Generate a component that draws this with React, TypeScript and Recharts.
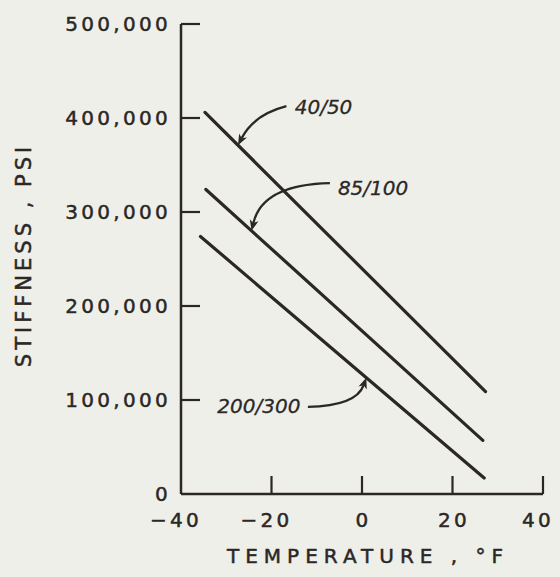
import { Label, Line, LineChart, ReferenceDot, XAxis, YAxis } from "recharts";

// axis ticks
const tempTicks = [-40, -20, 0, 20, 40];
const stiffTicks = [0, 100000, 200000, 300000, 400000, 500000];

// penetration grades and their stiffness lines (°F, psi)
const grades = ["40/50", "85/100", "200/300"];
const temp4050 = [-34.7, 27.3];
const stiff4050 = [406000, 109000];
const temp85100 = [-34.5, 26.7];
const stiff85100 = [324000, 57000];
const temp200300 = [-35.7, 27.0];
const stiff200300 = [274000, 17000];

// temperature at which each callout arrow touches its line
const calloutTemps = [-27.4, -24.4, 0.95];

const ink = "#2b2727";
const paper = "#efefe9";
const font = "DejaVu Sans, sans-serif";
const tickFont = {
  fontFamily: font,
  fontSize: 20,
  letterSpacing: 3.3,
  fill: ink,
  stroke: ink,
  strokeWidth: 0.5,
};

const toRows = (t: number[], s: number[]) => t.map((temp, i) => ({ temp, stiff: s[i] }));

const series = [
  { name: grades[0], rows: toRows(temp4050, stiff4050) },
  { name: grades[1], rows: toRows(temp85100, stiff85100) },
  { name: grades[2], rows: toRows(temp200300, stiff200300) },
];

function stiffAt(rows: { temp: number; stiff: number }[], temp: number) {
  const [a, b] = rows;
  return a.stiff + ((temp - a.temp) / (b.temp - a.temp)) * (b.stiff - a.stiff);
}

// pixel offsets of label / leader start / bend, relative to the arrow tip
const calloutLayout = [
  { text: [56.7, -31.7], start: [48.4, -39], ctrl: [15.8, -30.5] },
  { text: [86.3, -35.5], start: [78.3, -47.7], ctrl: [10.8, -46.2] },
  { text: [-149, 35], start: [-58.4, 29.3], ctrl: [-10, 28.3] },
];

function Callout(props: any, label: string, idx: number) {
  const { cx, cy } = props;
  const lay = calloutLayout[idx];
  const sx = cx + lay.start[0];
  const sy = cy + lay.start[1];
  const qx = cx + lay.ctrl[0];
  const qy = cy + lay.ctrl[1];
  // arrowhead pointing along the last part of the curve
  const ang = Math.atan2(cy - qy, cx - qx);
  const len = 11;
  const half = 4.4;
  const bx = cx - len * Math.cos(ang);
  const by = cy - len * Math.sin(ang);
  const nx = cx - (len - 3) * Math.cos(ang);
  const ny = cy - (len - 3) * Math.sin(ang);
  const px = -Math.sin(ang) * half;
  const py = Math.cos(ang) * half;
  return (
    <g>
      <path
        d={`M${sx},${sy} Q${qx},${qy} ${nx},${ny}`}
        fill="none"
        stroke={ink}
        strokeWidth={2.3}
      />
      <path
        d={`M${cx},${cy} L${bx + px},${by + py} L${nx},${ny} L${bx - px},${by - py} Z`}
        fill={ink}
      />
      <text
        x={cx + lay.text[0]}
        y={cy + lay.text[1]}
        fontFamily={font}
        fontStyle="italic"
        fontSize={20}
        fill={ink}
        stroke={ink}
        strokeWidth={0.3}
      >
        {label}
      </text>
    </g>
  );
}

function StiffTick({ x, y, payload }: any) {
  return (
    <g>
      {payload.value > 0 && (
        <line x1={x} x2={x + 19} y1={y} y2={y} stroke={ink} strokeWidth={2.2} />
      )}
      <text x={x - 10} y={y} dy={7} textAnchor="end" {...tickFont}>
        {payload.value.toLocaleString("en-US")}
      </text>
    </g>
  );
}

function TempTick({ x, y, payload }: any) {
  const v = payload.value;
  const label = v < 0 ? `\u2212${Math.abs(v)}` : `${v}`;
  // the last label sits a little inside the axis end
  const shift = v === 40 ? -5 : v < 0 ? -5 : 1.5;
  return (
    <g>
      {v > -40 && <line x1={x} x2={x} y1={y} y2={y - 18} stroke={ink} strokeWidth={2.2} />}
      <text x={x + shift} y={y} dy={33} textAnchor="middle" {...tickFont}>
        {label}
      </text>
    </g>
  );
}

export default function App() {
  return (
    <div style={{ position: "absolute", left: 0, top: 0, width: 560, height: 577, background: paper }}>
      <LineChart width={560} height={577} margin={{ top: 24, right: 17, left: 0, bottom: 0 }}>
        <XAxis
          type="number"
          dataKey="temp"
          domain={[-40, 40]}
          ticks={tempTicks}
          allowDataOverflow
          height={83}
          stroke={ink}
          strokeWidth={2.5}
          tickSize={0}
          tickMargin={0}
          tickLine={false}
          tick={<TempTick />}
        >
          <Label
            content={({ viewBox }: any) => (
              <text
                x={viewBox.x + viewBox.width / 2 + 6}
                y={viewBox.y + 69}
                textAnchor="middle"
                fontFamily={font}
                fontSize={20}
                letterSpacing={6}
                fill={ink}
                stroke={ink}
                strokeWidth={0.5}
              >
                TEMPERATURE , °F
              </text>
            )}
          />
        </XAxis>
        <YAxis
          type="number"
          dataKey="stiff"
          domain={[0, 500000]}
          ticks={stiffTicks}
          width={181}
          stroke={ink}
          strokeWidth={2.5}
          tickSize={0}
          tickMargin={0}
          tickLine={false}
          tick={<StiffTick />}
        >
          <Label
            content={({ viewBox }: any) => {
              const cx = 24;
              const cy = viewBox.y + viewBox.height / 2 - 4;
              return (
                <text
                  x={cx}
                  y={cy}
                  transform={`rotate(-90, ${cx}, ${cy})`}
                  textAnchor="middle"
                  dominantBaseline="central"
                  fontFamily={font}
                  fontSize={21}
                  letterSpacing={4}
                  fill={ink}
                  stroke={ink}
                  strokeWidth={0.5}
                >
                  STIFFNESS , PSI
                </text>
              );
            }}
          />
        </YAxis>
        {series.map((s) => (
          <Line
            key={s.name}
            name={s.name}
            data={s.rows}
            dataKey="stiff"
            type="linear"
            stroke={ink}
            strokeWidth={3.2}
            strokeLinecap="round"
            dot={false}
            activeDot={false}
            isAnimationActive={false}
          />
        ))}
        {series.map((s, i) => (
          <ReferenceDot
            key={`callout-${s.name}`}
            x={calloutTemps[i]}
            y={stiffAt(s.rows, calloutTemps[i])}
            r={0}
            ifOverflow="visible"
            shape={(p: any) => Callout(p, s.name, i)}
          />
        ))}
      </LineChart>
    </div>
  );
}
